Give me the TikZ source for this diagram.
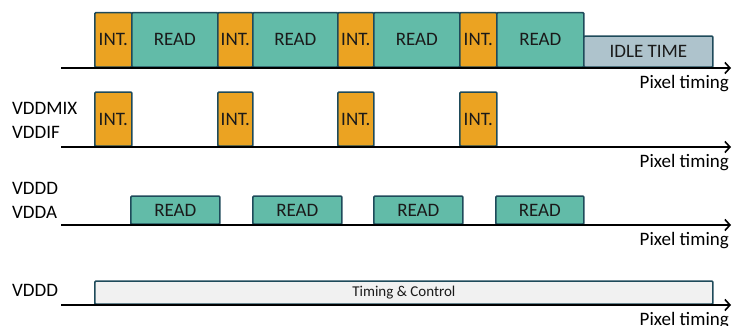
\documentclass[tikz,border=0pt]{standalone}
\usepackage{fontspec}
\setmainfont{Carlito}
\usetikzlibrary{arrows.meta}
\definecolor{intc}{HTML}{EBA322}
\definecolor{readc}{HTML}{62BBA8}
\definecolor{idlec}{HTML}{AEC3CC}
\definecolor{tcc}{HTML}{F1F1F1}
\definecolor{edgec}{HTML}{1E4A5A}
\definecolor{txtc}{HTML}{1A1A1A}
\tikzset{
  blk/.style={draw=edgec, line width=1.7pt, rounded corners=1pt, inner sep=0pt, anchor=south west, text=txtc, font=\fontsize{19}{19}\selectfont},
  intb/.style={blk, fill=intc},
  readb/.style={blk, fill=readc},
  idleb/.style={blk, fill=idlec},
  tcb/.style={blk, fill=tcc, font=\fontsize{15}{15}\selectfont},
  axis/.style={line width=2.6pt, -{Straight Barb[length=5pt,width=11pt,line width=1.6pt]}},
  lbl/.style={inner sep=0pt, anchor=west, font=\fontsize{19}{19}\selectfont},
  pt/.style={inner sep=0pt, anchor=base east, font=\fontsize{19}{19}\selectfont},
}
\begin{document}
\begin{tikzpicture}[x=1pt, y=-1pt]
\useasboundingbox (0,0) rectangle (732,326);
% Row 1
\node[intb, minimum width=37pt, minimum height=54.5pt] (i11) at (94,68) {INT.};
\node[readb, minimum width=86pt, minimum height=54.5pt] (r11) at (131,68) {READ};
\node[intb, minimum width=35pt, minimum height=54.5pt] (i12) at (217,68) {INT.};
\node[readb, minimum width=85pt, minimum height=54.5pt] (r12) at (252,68) {READ};
\node[intb, minimum width=36pt, minimum height=54.5pt] (i13) at (337,68) {INT.};
\node[readb, minimum width=86pt, minimum height=54.5pt] (r13) at (373,68) {READ};
\node[intb, minimum width=37pt, minimum height=54.5pt] (i14) at (459,68) {INT.};
\node[readb, minimum width=87pt, minimum height=54.5pt] (r14) at (496,68) {READ};
\node[idleb, minimum width=129pt, minimum height=31pt] (idle) at (583,68) {IDLE TIME};
\coordinate (a1s) at (61,68);
\coordinate (a1e) at (731,68);
\draw[axis] (a1s) -- (a1e);
\node[pt] (p1) at (729,89) {Pixel timing};
% Row 2
\node[lbl] (l21) at (12,108) {VDDMIX};
\node[lbl] (l22) at (12,132) {VDDIF};
\node[intb, minimum width=37pt, minimum height=54pt] (i21) at (94,147) {INT.};
\node[intb, minimum width=35pt, minimum height=54pt] (i22) at (217,147) {INT.};
\node[intb, minimum width=36pt, minimum height=54pt] (i23) at (337,147) {INT.};
\node[intb, minimum width=37pt, minimum height=54pt] (i24) at (459,147) {INT.};
\coordinate (a2s) at (61,147);
\coordinate (a2e) at (731,147);
\draw[axis] (a2s) -- (a2e);
\node[pt] (p2) at (729,168) {Pixel timing};
% Row 3
\node[lbl] (l31) at (12,188) {VDDD};
\node[lbl] (l32) at (12,212) {VDDA};
\node[readb, minimum width=89pt, minimum height=28pt] (r31) at (130,225) {READ};
\node[readb, minimum width=89pt, minimum height=28pt] (r32) at (252,225) {READ};
\node[readb, minimum width=89pt, minimum height=28pt] (r33) at (373,225) {READ};
\node[readb, minimum width=88pt, minimum height=28pt] (r34) at (495,225) {READ};
\coordinate (a3s) at (61,225);
\coordinate (a3e) at (731,225);
\draw[axis] (a3s) -- (a3e);
\node[pt] (p3) at (729,246) {Pixel timing};
% Row 4
\node[lbl] (l41) at (12,290) {VDDD};
\node[tcb, minimum width=618pt, minimum height=23pt] (tc) at (94,305) {Timing \& Control};
\coordinate (a4s) at (61,305);
\coordinate (a4e) at (731,305);
\draw[axis] (a4s) -- (a4e);
\node[pt] (p4) at (729,326) {Pixel timing};
\end{tikzpicture}
\end{document}
